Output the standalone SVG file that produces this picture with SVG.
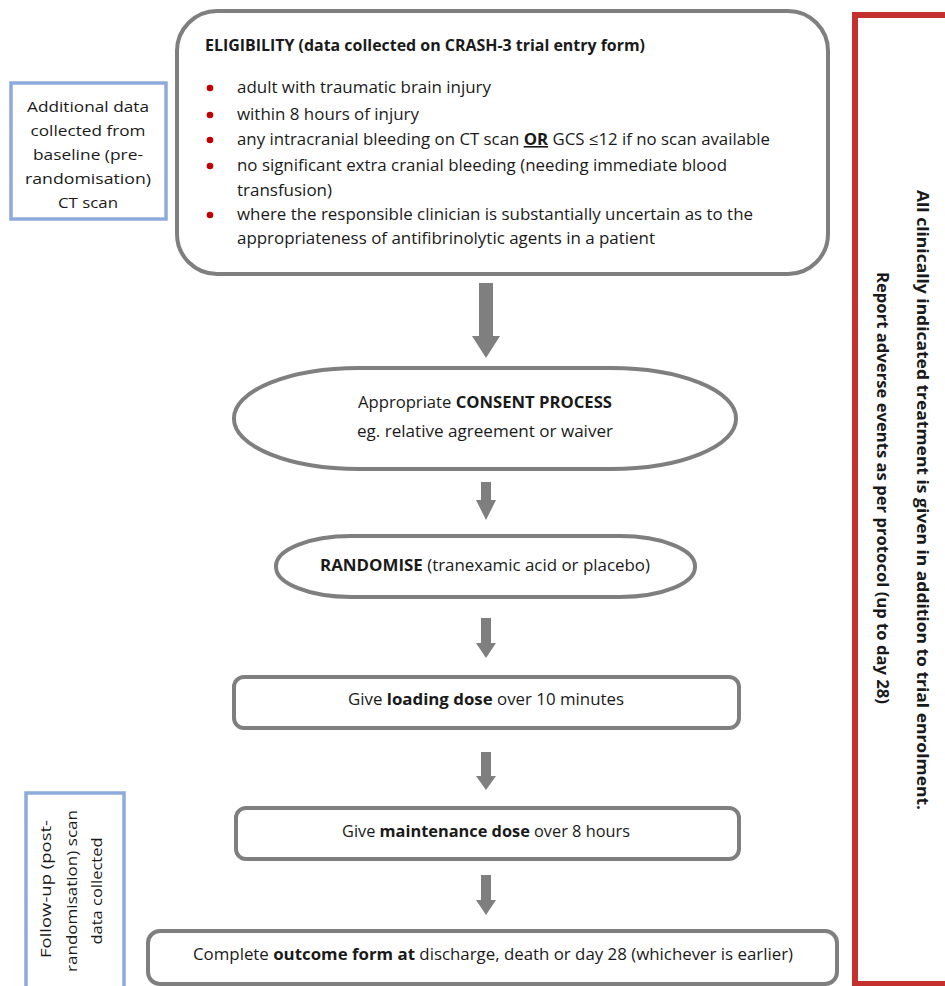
<svg xmlns="http://www.w3.org/2000/svg" width="945" height="986" viewBox="0 0 945 986">
<defs>
<style>
.t{font-family:"Open Sans","Noto Sans","Liberation Sans",sans-serif;font-size:16px;fill:#1a1a1a}
.s{font-size:15px}
.b{font-weight:bold}
.m{text-anchor:middle}
.box{fill:#ffffff;stroke:#7f7f7f;stroke-width:4}
.blue{fill:#ffffff;stroke:#8eaadb;stroke-width:3.5}
.red{fill:#ffffff;stroke:#c3302d;stroke-width:6}
.arr{fill:#7f7f7f;stroke:none}
.dot{fill:#c00000}
</style>
</defs>
<rect width="945" height="986" fill="#ffffff"/>

<g id="side-red">
<rect class="red" x="855" y="15" width="120" height="969"/>
<text class="t b m" transform="translate(917,500) rotate(90)" textLength="620" lengthAdjust="spacingAndGlyphs">All clinically indicated treatment is given in addition to trial enrolment.</text>
<text class="t b m" transform="translate(877,488) rotate(90)" textLength="432" lengthAdjust="spacingAndGlyphs">Report adverse events as per protocol (up to day 28)</text>
</g>

<g id="baseline-ct">
<rect class="blue" x="11" y="83" width="155" height="136"/>
<text class="t s m" x="88" y="112" textLength="122" lengthAdjust="spacingAndGlyphs">Additional data</text>
<text class="t s m" x="88" y="136" textLength="115" lengthAdjust="spacingAndGlyphs">collected from</text>
<text class="t s m" x="88" y="160" textLength="110" lengthAdjust="spacingAndGlyphs">baseline (pre-</text>
<text class="t s m" x="88" y="184" textLength="126" lengthAdjust="spacingAndGlyphs">randomisation)</text>
<text class="t s m" x="88" y="208" textLength="60" lengthAdjust="spacingAndGlyphs">CT scan</text>
</g>

<g id="followup-scan">
<rect class="blue" x="26" y="793" width="98" height="210"/>
<text class="t s m" transform="translate(51,889) rotate(-90)" textLength="138" lengthAdjust="spacingAndGlyphs">Follow-up (post-</text>
<text class="t s m" transform="translate(77,891) rotate(-90)" textLength="162" lengthAdjust="spacingAndGlyphs">randomisation) scan</text>
<text class="t s m" transform="translate(102,891) rotate(-90)" textLength="107" lengthAdjust="spacingAndGlyphs">data collected</text>
</g>

<g id="eligibility">
<rect class="box" x="177" y="11" width="651" height="263" rx="40" ry="40"/>
<text class="t b" x="205" y="51" textLength="440" lengthAdjust="spacingAndGlyphs">ELIGIBILITY (data collected on CRASH-3 trial entry form)</text>
<circle class="dot" cx="210" cy="88" r="3.3"/>
<circle class="dot" cx="210" cy="115" r="3.3"/>
<circle class="dot" cx="210" cy="140" r="3.3"/>
<circle class="dot" cx="210" cy="166" r="3.3"/>
<circle class="dot" cx="210" cy="215" r="3.3"/>
<text class="t" x="237" y="93" textLength="254" lengthAdjust="spacingAndGlyphs">adult with traumatic brain injury</text>
<text class="t" x="237" y="120" textLength="182" lengthAdjust="spacingAndGlyphs">within 8 hours of injury</text>
<text class="t" x="237" y="145" textLength="533" lengthAdjust="spacingAndGlyphs">any intracranial bleeding on CT scan <tspan class="b" text-decoration="underline">OR</tspan> GCS ≤12 if no scan available</text>
<text class="t" x="237" y="171" textLength="490" lengthAdjust="spacingAndGlyphs">no significant extra cranial bleeding (needing immediate blood</text>
<text class="t" x="237" y="196" textLength="95" lengthAdjust="spacingAndGlyphs">transfusion)</text>
<text class="t" x="237" y="220" textLength="516" lengthAdjust="spacingAndGlyphs">where the responsible clinician is substantially uncertain as to the</text>
<text class="t" x="237" y="244" textLength="418" lengthAdjust="spacingAndGlyphs">appropriateness of antifibrinolytic agents in a patient</text>
</g>

<g id="consent">
<rect class="box" x="234" y="368" width="502" height="101" rx="125" ry="50"/>
<text class="t m" x="485" y="408" textLength="254" lengthAdjust="spacingAndGlyphs">Appropriate <tspan class="b">CONSENT PROCESS</tspan></text>
<text class="t m" x="485" y="437" textLength="256" lengthAdjust="spacingAndGlyphs">eg. relative agreement or waiver</text>
</g>

<g id="randomise">
<rect class="box" x="276" y="536" width="419" height="61" rx="75" ry="30"/>
<text class="t m" x="485" y="571" textLength="330" lengthAdjust="spacingAndGlyphs"><tspan class="b">RANDOMISE</tspan> (tranexamic acid or placebo)</text>
</g>

<g id="loading">
<rect class="box" x="234" y="677" width="505" height="51" rx="10" ry="10"/>
<text class="t m" x="486" y="705" textLength="276" lengthAdjust="spacingAndGlyphs">Give <tspan class="b">loading dose</tspan> over 10 minutes</text>
</g>

<g id="maintenance">
<rect class="box" x="236" y="808" width="503" height="51" rx="10" ry="10"/>
<text class="t m" x="486" y="837" textLength="288" lengthAdjust="spacingAndGlyphs">Give <tspan class="b">maintenance dose</tspan> over 8 hours</text>
</g>

<g id="outcome">
<rect class="box" x="148" y="931" width="689" height="53" rx="12" ry="12"/>
<text class="t m" x="493" y="960" textLength="600" lengthAdjust="spacingAndGlyphs">Complete <tspan class="b">outcome form at</tspan> discharge, death or day 28 (whichever is earlier)</text>
</g>

<g id="connectors">
<polygon class="arr" points="479,283 493,283 493,336 500,336 486,358 472,336 479,336"/>
<polygon class="arr" points="481,482 491,482 491,500 496,500 486,520 476,500 481,500"/>
<polygon class="arr" points="481,618 491,618 491,643 496,643 486,658 476,643 481,643"/>
<polygon class="arr" points="481,752 491,752 491,776 496,776 486,790 476,776 481,776"/>
<polygon class="arr" points="481,875 491,875 491,900 496,900 486,915 476,900 481,900"/>
</g>
</svg>
